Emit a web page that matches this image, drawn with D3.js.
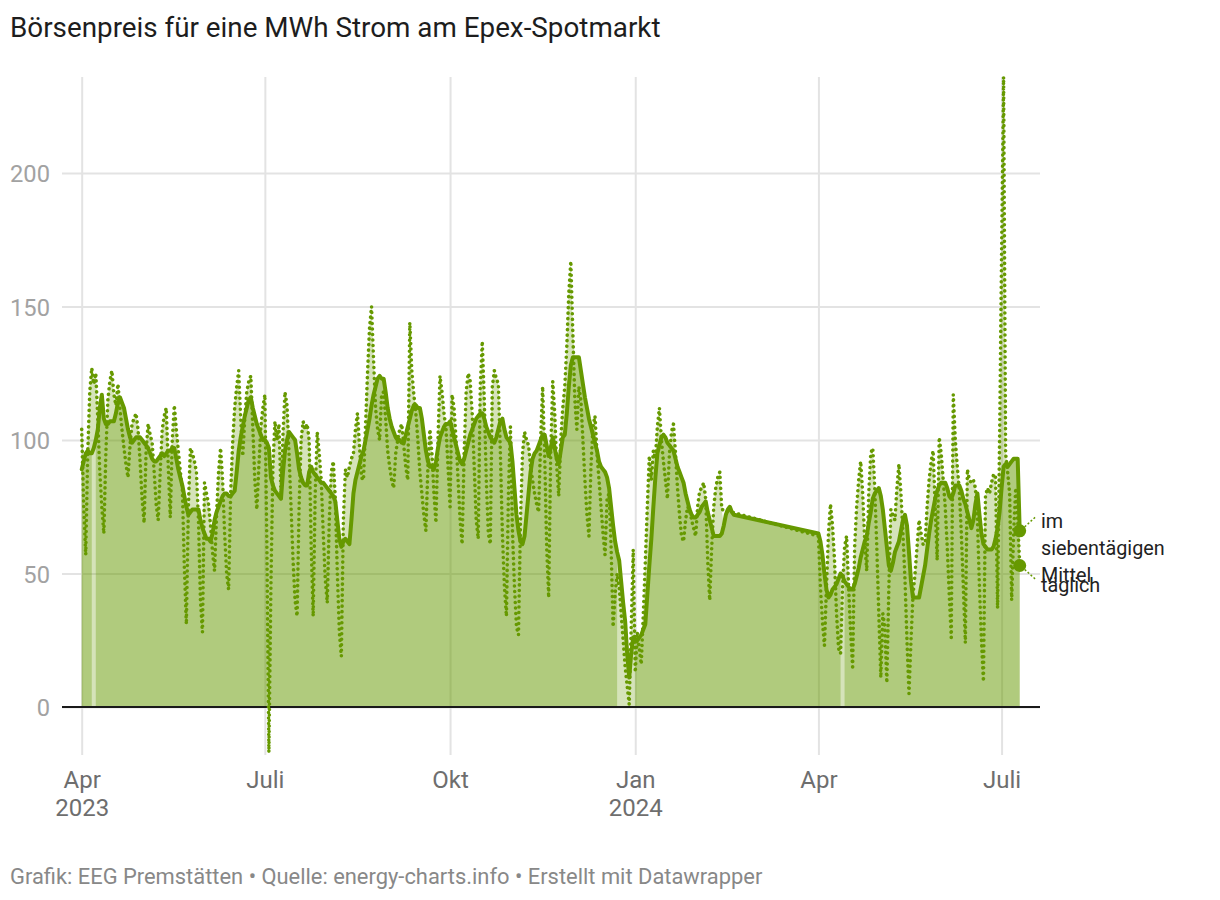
<!DOCTYPE html>
<html><head><meta charset="utf-8">
<script src="https://cdn.jsdelivr.net/npm/d3@7"></script>
<style>
body{margin:0;background:#fff;}
svg{display:block;font-family:Roboto,"Noto Sans",sans-serif;}
</style></head><body>
<svg id="chart" width="1220" height="900"></svg>
<script>
// ---------- DATA (EUR per MWh) ----------
const chartTitle = "Börsenpreis für eine MWh Strom am Epex-Spotmarkt";
const footerText = "Grafik: EEG Premstätten • Quelle: energy-charts.info • Erstellt mit Datawrapper";
const seriesLabelMean = ["im", "siebentägigen", "Mittel"];
const seriesLabelDaily = ["täglich"];

const monthStarts = ["2023-04-01","2023-05-01","2023-06-01","2023-07-01","2023-08-01","2023-09-01",
  "2023-10-01","2023-11-01","2023-12-01","2024-01-01","2024-02-01","2024-03-01",
  "2024-04-01","2024-05-01","2024-06-01","2024-07-01"];

// daily price (dotted line)
const dailyApr2023 = [104,75,57,95,118,127,121,125,108,88,75,65,95,115,122,126,117,113,121,112,104,97,91,86,98,106,108,110,104,92];
const dailyMay2023 = [78,69,96,106,102,99,88,76,70,88,104,109,112,90,71,100,113,104,96,88,82,52,31,75,97,95,92,88,70,40,28];
const dailyJun2023 = [84,80,76,68,58,51,72,88,97,85,65,50,44,80,99,112,120,126,108,94,108,118,122,124,105,85,74,90,105,112];
const dailyJul2023 = [117,60,-17,45,90,107,100,106,80,102,118,113,95,75,55,40,34,75,100,107,104,106,100,60,34,80,103,95,85,65,48];
const dailyAug2023 = [39,70,88,92,78,50,28,19,70,89,86,90,93,95,104,110,98,86,85,105,125,142,150,130,112,104,100,117,118,108,96];
const dailySep2023 = [90,85,82,95,100,104,106,98,90,85,144,126,117,110,100,88,80,72,66,90,104,95,80,69,100,124,118,110,104,90];
const dailyOct2023 = [75,117,112,100,85,70,61,95,118,125,122,110,90,70,63,120,137,115,85,65,61,120,126,123,121,95,65,45,34,80,105];
const dailyNov2023 = [66,45,30,27,70,95,103,100,98,90,85,80,76,73,100,120,95,60,41,95,122,110,90,79,100,112,120,135,155,167];
const dailyDec2023 = [140,115,104,120,115,100,85,72,64,90,105,109,95,85,75,65,57,78,80,60,30,42,50,45,35,25,15,8,1,30,59];
const dailyJan2024 = [13,28,22,16,35,54,75,94,85,96,93,105,112,100,92,85,78,95,103,106,95,82,72,64,62,70,75,74,70,67,64];
const dailyFeb2024 = [75,81,82,84,78,55,40,60,75,82,86,88,74];
const dailyMar2024 = [];
const dailyApr2024 = [64,45,32,23,45,65,76,68,55,35,22,20,45,60,64,45,28,15,60,75,85,92,80,62,51,80,95,97,82,60];
const dailyMay2024 = [35,11,35,30,9,45,74,72,70,82,91,80,65,48,25,5,25,42,50,60,70,65,61,61,75,85,92,96,75,55,101];
const dailyJun2024 = [95,85,75,60,42,26,117,100,90,81,65,45,24,89,85,84,85,82,70,45,25,9.5,79,82,80,84,87,87,37,100];
const dailyJul2024 = [170,236,95,88,80,40,65,82,70,53];

// seven-day mean (solid line)
const meanApr2023 = [89,92,95,96,95,95,97,100,104,112,117,108,106,106,107,107,107,110,114,116,114,112,108,104,101,99,100,101,101,101];
const meanMay2023 = [100,99,98,97,95,93,92,92,93,94,95,94,95,96,96,97,97,93,89,86,83,79,75,72,73,74,74,74,74,70,67];
const meanJun2023 = [65,63,63,62,65,70,73,75,77,79,80,80,79,79,80,81,88,96,101,105,109,112,115,116,112,109,106,104,102,100];
const meanJul2023 = [100,99,97,86,83,81,80,79,78,88,96,100,103,102,101,100,95,89,86,84,83,83,88,90,88,87,86,85,84,84,83];
const meanAug2023 = [82,81,80,79,77,70,63,60,62,63,62,61,70,80,85,88,91,94,96,100,104,108,113,117,120,123,124,123,123,118,112];
const meanSep2023 = [108,105,103,101,100,100,99,99,102,105,108,111,113,113,112,112,108,102,96,92,90,90,89,92,97,101,103,105,106,106];
const meanOct2023 = [107,104,101,98,95,92,91,93,96,99,102,104,106,108,109,110,110,108,105,103,101,100,99,101,104,107,108,104,101,100,99];
const meanNov2023 = [92,82,72,66,62,61,64,72,80,88,93,95,96,98,100,102,102,98,94,97,101,97,93,91,96,101,102,110,120,128];
const meanDec2023 = [131,131,131,131,126,121,116,112,108,105,102,99,96,92,90,89,88,86,82,75,68,62,58,55,47,39,32,20,11,20,26];
const meanJan2024 = [25,25,26,27,29,31,42,53,63,75,86,95,98,101,102,101,99,98,97,96,93,90,88,86,84,80,77,74,72,71,71];
const meanFeb2024 = [72,73,75,76,77,73,70,67,64,64,64,64,65,68,72,74,75,73,72];
const meanMar2024 = [];
const meanApr2024 = [65,62,57,50,44,41,42,44,45,46,48,50,49,47,46,45,44,44,46,49,52,56,59,62,64,69,73,78,80,81];
const meanMay2024 = [82,79,74,67,60,53,51,54,58,60,62,66,70,72,68,58,47,41,41,41,41,45,49,53,59,65,70,74,78,81,83];
const meanJun2024 = [84,84,84,82,79,78,80,83,83,83,81,78,76,73,70,67,70,76,80,72,65,61,60,59,59,59,60,63,67,73];
const meanJul2024 = [82,90,91,90,91,92,93,93,93,66];

// days without fill below the mean
const fillGapDates = ["2023-04-07","2023-12-24","2023-12-25","2023-12-26","2023-12-27","2023-12-28",
  "2023-12-29","2023-12-30","2023-12-31","2024-04-13"];

// axes
const xDomain = ["2023-04-01","2024-07-10"];
const yDomain = [-18, 236];
const yTicks = [0, 50, 100, 150, 200];
const xTickDates = ["2023-04-01","2023-07-01","2023-10-01","2024-01-01","2024-04-01","2024-07-01"];
const xTickMonths = ["Apr","Juli","Okt","Jan","Apr","Juli"];
const xTickYears = ["2023","","","2024","",""];

// ---------- BUILD ----------
const dailyMonths = [dailyApr2023,dailyMay2023,dailyJun2023,dailyJul2023,dailyAug2023,dailySep2023,dailyOct2023,
  dailyNov2023,dailyDec2023,dailyJan2024,dailyFeb2024,dailyMar2024,dailyApr2024,dailyMay2024,dailyJun2024,dailyJul2024];
const meanMonths = [meanApr2023,meanMay2023,meanJun2023,meanJul2023,meanAug2023,meanSep2023,meanOct2023,
  meanNov2023,meanDec2023,meanJan2024,meanFeb2024,meanMar2024,meanApr2024,meanMay2024,meanJun2024,meanJul2024];

const parse = d3.utcParse("%Y-%m-%d");
const fmt = d3.utcFormat("%Y-%m-%d");
const rows = [];
monthStarts.forEach((ms, mi) => {
  const start = parse(ms);
  const n = Math.max(dailyMonths[mi].length, meanMonths[mi].length);
  for (let i = 0; i < n; i++) {
    const dv = dailyMonths[mi][i], mv = meanMonths[mi][i];
    rows.push({date: d3.utcDay.offset(start, i),
      daily: dv === undefined ? null : dv,
      mean: mv === undefined ? null : mv});
  }
});
const gapSet = new Set(fillGapDates);

const color = "#669900";
const svg = d3.select("#chart");
const plotLeft = 62, plotRight = 1040, plotTop = 77, plotBottom = 755;

const x = d3.scaleUtc().domain(xDomain.map(parse)).range([81.7, 1019.7]);
const y = d3.scaleLinear().domain(yDomain).range([plotBottom, plotTop]);

// title
svg.append("text").attr("x", 10).attr("y", 37).attr("font-size", 27.8).attr("fill", "#1d1d1d")
  .text(chartTitle);

// y grid + labels
const gy = svg.append("g").attr("transform", `translate(${plotLeft},0)`)
  .call(d3.axisLeft(y).tickValues(yTicks).tickSize(-(plotRight - plotLeft)).tickPadding(12));
gy.select(".domain").remove();
gy.selectAll(".tick line").attr("stroke", "#e3e3e3").attr("stroke-width", 2);
gy.selectAll(".tick text").attr("fill", "#a2a2a2").attr("font-size", 23.7)
  .attr("font-family", "Roboto").attr("dy", "0.36em");

// x grid + labels
const gx = svg.append("g").attr("transform", `translate(0,${plotBottom})`)
  .call(d3.axisBottom(x).tickValues(xTickDates.map(parse)).tickSize(-(plotBottom - plotTop)).tickFormat(""));
gx.select(".domain").remove();
gx.selectAll(".tick line").attr("stroke", "#e3e3e3").attr("stroke-width", 2);
gx.selectAll(".tick").each(function(d, i) {
  const t = d3.select(this).append("text").attr("fill", "#6e6e6e").attr("font-size", 24)
    .attr("font-family", "Roboto").attr("text-anchor", "middle");
  t.append("tspan").attr("x", 0).attr("y", 33).text(xTickMonths[i]);
  if (xTickYears[i]) t.append("tspan").attr("x", 0).attr("y", 61).text(xTickYears[i]);
});

// fills
const meanRows = rows.filter(r => r.mean !== null);
const lightArea = d3.area().x(r => x(r.date)).y0(y(0))
  .y1(r => y(Math.max(r.daily === null ? r.mean : r.daily, r.mean)));
svg.append("path").datum(meanRows).attr("d", lightArea).attr("fill", color).attr("fill-opacity", 0.275);
const darkArea = d3.area().defined(r => !gapSet.has(fmt(r.date)))
  .x(r => x(r.date)).y0(y(0)).y1(r => y(r.mean));
svg.append("path").datum(meanRows).attr("d", darkArea).attr("fill", color).attr("fill-opacity", 0.324);

// zero line
svg.append("line").attr("x1", plotLeft).attr("x2", plotRight).attr("y1", y(0)).attr("y2", y(0))
  .attr("stroke", "#1a1a1a").attr("stroke-width", 2);

// mean line
svg.append("path").datum(meanRows).attr("d", d3.line().x(r => x(r.date)).y(r => y(r.mean)))
  .attr("fill", "none").attr("stroke", color).attr("stroke-width", 4)
  .attr("stroke-linejoin", "round").attr("stroke-linecap", "round");

// daily dotted line
const dailyRows = rows.filter(r => r.daily !== null);
svg.append("path").datum(dailyRows).attr("d", d3.line().x(r => x(r.date)).y(r => y(r.daily)))
  .attr("fill", "none").attr("stroke", color).attr("stroke-width", 3.6)
  .attr("stroke-dasharray", "0.01 5.5").attr("stroke-linecap", "round").attr("stroke-linejoin", "round");

// end markers and labels
const lastMean = meanRows[meanRows.length - 1];
const lastDaily = dailyRows[dailyRows.length - 1];
const mx = x(lastMean.date), my = y(lastMean.mean);
const dx = x(lastDaily.date), dyy = y(lastDaily.daily);
svg.append("circle").attr("cx", mx).attr("cy", my).attr("r", 6.5).attr("fill", color);
svg.append("circle").attr("cx", dx).attr("cy", dyy).attr("r", 6.5).attr("fill", color);
svg.append("line").attr("x1", mx + 5).attr("y1", my - 4).attr("x2", mx + 16).attr("y2", my - 14)
  .attr("stroke", color).attr("stroke-width", 1.5).attr("stroke-dasharray", "2 2");
svg.append("line").attr("x1", dx + 5).attr("y1", dyy + 4).attr("x2", dx + 16).attr("y2", dyy + 14)
  .attr("stroke", color).attr("stroke-width", 1.5).attr("stroke-dasharray", "2 2");
const lm = svg.append("text").attr("font-size", 19.8).attr("fill", "#222");
seriesLabelMean.forEach((s, i) => lm.append("tspan").attr("x", 1041).attr("y", my - 3 + i * 27).text(s));
svg.append("text").attr("font-size", 19.8).attr("fill", "#222").attr("x", 1041).attr("y", dyy + 27)
  .text(seriesLabelDaily[0]);

// footer
svg.append("text").attr("x", 10).attr("y", 884).attr("font-size", 21.9).attr("fill", "#888")
  .text(footerText);
</script></body></html>
